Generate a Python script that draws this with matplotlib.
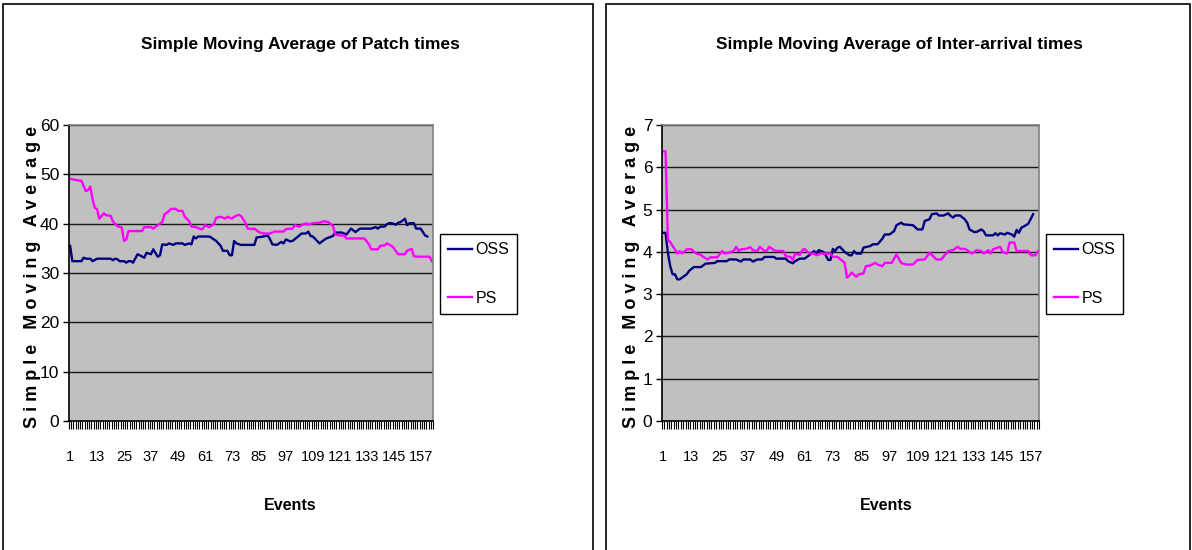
import matplotlib
matplotlib.use("Agg")
import matplotlib.pyplot as plt
from matplotlib.patches import Rectangle
from matplotlib.ticker import FixedLocator, MultipleLocator

# ---------------- data ----------------
patch_n_events = 162
patch_ps_events = [1,4,6,8,9,10,11,12,13,14,16,17,19,20,22,24,25,26,27,29,33,34,37,38,40,42,43,44,46,48,49,51,52,54,55,57,59,60,61,63,65,66,68,70,71,73,74,76,77,79,80,82,83,85,87,90,92,96,97,100,101,103,104,106,107,109,112,114,116,118,119,121,123,124,132,134,135,138,139,141,142,144,145,147,150,151,153,154,156,161,162]
patch_ps_values = [49.1,48.8,48.7,46.6,46.8,47.5,44.9,43.2,42.9,41.0,42.1,41.7,41.6,40.5,39.5,39.2,36.5,36.8,38.5,38.5,38.5,39.3,39.3,39.0,39.7,40.3,41.9,42.2,43.0,43.0,42.6,42.6,41.4,40.5,39.4,39.3,38.9,38.9,39.7,39.3,39.9,41.2,41.4,41.0,41.4,41.0,41.4,41.8,41.6,40.2,39.0,38.9,39.0,38.3,38.0,38.0,38.4,38.4,38.9,39.0,39.7,39.4,39.7,40.1,39.8,40.1,40.2,40.5,40.3,39.5,37.8,37.6,37.6,37.0,37.0,35.8,34.8,34.8,35.5,35.6,36.0,35.5,35.1,33.8,33.8,34.5,34.9,33.4,33.3,33.3,32.4]
patch_oss_events = [1,2,6,7,8,10,11,13,19,20,21,22,23,25,26,27,28,29,31,32,34,35,37,38,40,41,42,44,45,47,48,51,52,54,55,56,57,58,63,65,66,68,69,71,72,73,74,75,77,83,84,87,89,90,91,93,95,96,97,99,100,103,104,106,107,108,109,112,114,115,118,119,122,124,126,128,130,135,137,138,139,141,142,143,144,146,147,148,150,151,152,154,155,157,159,160]
patch_oss_values = [35.5,32.4,32.4,33.1,32.9,32.9,32.4,32.9,32.9,32.6,32.9,32.8,32.4,32.4,32.1,32.4,32.4,32.1,33.8,33.6,33.1,34.1,33.8,34.8,33.3,33.6,35.8,35.7,36.0,35.7,36.0,36.0,35.7,36.0,35.8,37.4,37.0,37.4,37.4,36.8,36.5,35.5,34.5,34.5,33.6,33.6,36.5,36.0,35.7,35.7,37.2,37.4,37.6,36.8,35.8,35.7,36.3,36.0,36.8,36.4,36.5,37.6,38.0,38.0,38.4,37.5,37.4,36.0,36.7,37.0,37.5,38.2,38.2,37.8,39.0,38.3,39.0,39.0,39.3,39.0,39.4,39.4,39.9,40.1,40.1,39.8,40.2,40.3,41.0,39.7,40.1,40.1,39.0,39.0,37.6,37.4]

inter_n_events = 160
inter_ps_events = [1,2,3,4,5,6,7,8,9,11,13,15,17,18,20,21,24,26,27,29,31,32,33,34,36,38,39,41,42,44,45,46,48,49,52,53,55,56,57,58,59,60,61,63,65,66,68,72,73,75,78,79,80,81,83,84,86,87,89,91,92,94,95,98,100,102,104,107,109,112,114,117,119,122,124,126,127,129,130,132,134,136,137,139,140,141,144,145,147,148,150,151,156,157,159,160]
inter_ps_values = [6.38,6.38,4.29,4.23,4.14,4.06,3.96,4.02,3.96,4.06,4.06,3.96,3.93,3.88,3.82,3.87,3.87,4.02,3.96,3.98,4.03,4.12,4.02,4.06,4.07,4.11,4.04,4.02,4.12,4.02,4.03,4.12,4.04,4.02,4.02,3.90,3.88,3.81,3.96,3.94,3.93,4.04,4.07,3.96,3.96,3.92,3.96,3.96,3.88,3.88,3.74,3.39,3.44,3.51,3.41,3.47,3.49,3.66,3.68,3.74,3.70,3.66,3.74,3.74,3.94,3.74,3.70,3.70,3.81,3.82,3.98,3.82,3.82,4.02,4.04,4.12,4.07,4.07,4.04,3.96,4.04,4.02,3.96,4.04,3.96,4.06,4.12,4.00,3.96,4.22,4.22,4.02,4.02,3.92,3.92,4.02]
inter_oss_events = [1,2,3,4,5,6,7,8,10,11,12,14,17,19,23,24,28,29,32,34,35,38,39,41,43,44,48,49,53,54,56,57,59,61,63,65,66,67,69,70,71,72,73,74,75,76,78,80,81,82,83,85,86,89,90,92,94,95,97,99,100,102,103,107,109,111,112,114,115,117,118,120,122,123,124,125,127,129,130,131,133,134,136,137,138,141,142,143,144,146,147,149,150,151,152,153,155,156,158]
inter_oss_values = [4.45,4.45,3.98,3.66,3.47,3.47,3.35,3.35,3.43,3.47,3.55,3.64,3.64,3.72,3.74,3.78,3.78,3.82,3.82,3.77,3.82,3.82,3.77,3.82,3.82,3.88,3.88,3.84,3.84,3.78,3.73,3.78,3.84,3.84,3.92,4.02,3.96,4.04,4.00,3.92,3.81,3.81,4.07,4.02,4.10,4.12,4.00,3.92,3.92,4.02,3.96,3.96,4.10,4.14,4.18,4.18,4.31,4.41,4.41,4.49,4.63,4.69,4.65,4.63,4.53,4.53,4.73,4.77,4.89,4.91,4.86,4.86,4.91,4.85,4.81,4.86,4.86,4.77,4.69,4.53,4.47,4.47,4.53,4.49,4.39,4.39,4.44,4.39,4.44,4.41,4.45,4.41,4.36,4.52,4.45,4.57,4.63,4.67,4.89]

x_tick_labels = [1, 13, 25, 37, 49, 61, 73, 85, 97, 109, 121, 133, 145, 157]
series_names = ["OSS", "PS"]
titles = ["Simple Moving Average of Patch times",
          "Simple Moving Average of Inter-arrival times"]
y_label = "S i m p l e   M o v i n g   A v e r a g e"
x_label = "Events"

# ---------------- style ----------------
plt.rcParams["font.family"] = ["Liberation Sans", "DejaVu Sans"]
W, H = 1192, 550
fig = plt.figure(figsize=(W / 100, H / 100), dpi=100)
fig.patch.set_facecolor("white")

def fx(px):
    return px / W

def fy(py):
    return 1 - py / H

# panel borders
for (x0, x1) in [(3, 593), (606, 1190)]:
    fig.add_artist(Rectangle((fx(x0), fy(560)), fx(x1 - x0), fy(4) - fy(560),
                             transform=fig.transFigure, fill=False,
                             edgecolor="black", linewidth=1.2))

colors = {"OSS": "#000080", "PS": "#FF00FF"}

panels = [
    dict(box=(69, 125, 433, 421), n=patch_n_events, ymax=60, ystep=10,
         oss=(patch_oss_events, patch_oss_values), ps=(patch_ps_events, patch_ps_values),
         title=titles[0], title_x=300, ylab_x=33, legend=(445, 232, 512, 316), xlab_x=290),
    dict(box=(662, 125, 1039, 421), n=inter_n_events, ymax=7, ystep=1,
         oss=(inter_oss_events, inter_oss_values), ps=(inter_ps_events, inter_ps_values),
         title=titles[1], title_x=899, ylab_x=632, legend=(1051, 232, 1118, 316), xlab_x=886),
]

for p in panels:
    x0, y0, x1, y1 = p["box"]
    ax = fig.add_axes([fx(x0), fy(y1), fx(x1 - x0), fy(y0) - fy(y1)])
    ax.set_facecolor("#C0C0C0")
    n = p["n"]
    ax.set_xlim(0.5, n + 0.5)
    ax.set_ylim(0, p["ymax"])
    ax.yaxis.set_major_locator(MultipleLocator(p["ystep"]))
    ax.grid(axis="y", color="#1a1a1a", linewidth=1.0)
    ax.set_axisbelow(True)
    l1, = ax.plot(p["oss"][0], p["oss"][1], color=colors["OSS"], lw=1.7, label=series_names[0])
    l2, = ax.plot(p["ps"][0], p["ps"][1], color=colors["PS"], lw=1.7, label=series_names[1])

    ax.xaxis.set_major_locator(FixedLocator(x_tick_labels))
    ax.set_xticklabels([str(v) for v in x_tick_labels])
    ax.xaxis.set_minor_locator(FixedLocator([i + 0.5 for i in range(0, n + 1)]))
    ax.tick_params(axis="x", which="major", length=0, pad=21, labelsize=10.5)
    ax.tick_params(axis="x", which="minor", length=6, width=0.8, direction="out", color="black")
    ax.tick_params(axis="y", which="major", length=4, width=1, pad=3, labelsize=12.5)

    for side in ["top", "right"]:
        ax.spines[side].set_color("#808080")
        ax.spines[side].set_linewidth(1.2)
    for side in ["left", "bottom"]:
        ax.spines[side].set_color("black")
        ax.spines[side].set_linewidth(1.2)

    fig.text(fx(p["title_x"]), fy(44), p["title"], ha="center", va="center",
             fontsize=12.5, fontweight="bold")
    fig.text(fx(p["ylab_x"]), fy(277), y_label, ha="center", va="center",
             rotation=90, fontsize=13, fontweight="bold")
    fig.text(fx(p["xlab_x"]), fy(506), x_label, ha="center", va="center",
             fontsize=11.5, fontweight="bold")

    lx0, ly0, lx1, ly1 = p["legend"]
    leg = fig.legend(handles=[l1, l2], loc="center",
                     bbox_to_anchor=(fx((lx0 + lx1) / 2), fy((ly0 + ly1) / 2)),
                     frameon=True, fancybox=False, edgecolor="black", framealpha=1,
                     fontsize=11.5, handlelength=1.55, handletextpad=0.2,
                     labelspacing=2.1, borderpad=0.5, borderaxespad=0)
    leg.get_frame().set_linewidth(1.0)

fig.savefig("out.png", dpi=100)
